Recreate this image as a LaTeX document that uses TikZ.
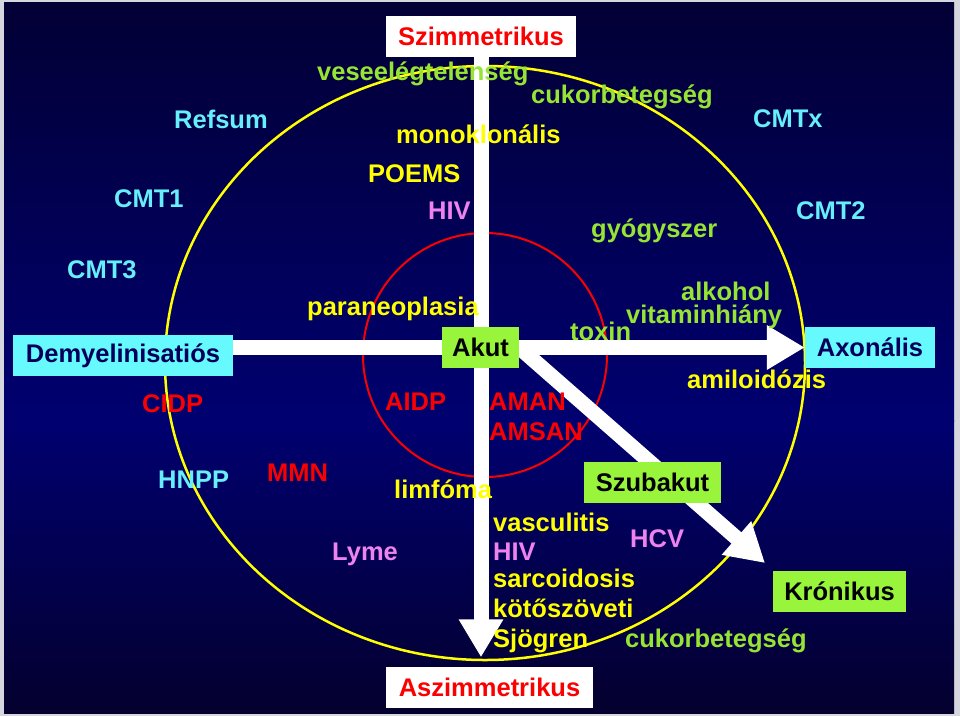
\documentclass[tikz,border=0pt]{standalone}
\usepackage{fontspec}
\setmainfont{Liberation Sans}
\usepackage{xcolor}
\usepackage{tikz}
\usetikzlibrary{arrows.meta,positioning,calc}

\definecolor{slidetop}{RGB}{2,0,52}
\definecolor{slidemid}{RGB}{0,0,112}
\definecolor{slidebot}{RGB}{4,0,46}
\definecolor{framegrey}{RGB}{214,214,222}
\definecolor{txtcyan}{RGB}{102,238,250}
\definecolor{txtyellow}{RGB}{255,255,0}
\definecolor{txtgreen}{RGB}{150,228,52}
\definecolor{txtred}{RGB}{250,0,0}
\definecolor{txtviolet}{RGB}{238,130,238}
\definecolor{boxgreen}{RGB}{153,245,60}
\definecolor{boxcyan}{RGB}{102,250,255}
\definecolor{navytxt}{RGB}{0,0,90}

\pgfdeclarelayer{back}
\pgfdeclarelayer{mid}
\pgfsetlayers{back,mid,main}

\begin{document}
\begin{tikzpicture}[
  x=1pt, y=-1pt,
  every node/.style={inner sep=0pt, font=\fontsize{25.5}{28}\selectfont\bfseries}, % Arial-like bold labels
  lbl/.style={anchor=base west},
  whitebox/.style={fill=white, text=txtred, minimum height=41pt},
  cyanbox/.style={fill=boxcyan, text=navytxt, minimum height=41pt},
  greenbox/.style={fill=boxgreen, text=black, minimum height=41pt},
  bigarrow/.style={-{Triangle[length=38pt,width=42pt]}, line width=15pt, draw=white},
]
\useasboundingbox (0,0) rectangle (960,716);

% slide background
\begin{pgfonlayer}{back}
\fill[framegrey] (0,0) rectangle (960,716);
\shade[top color=slidetop, bottom color=slidemid] (4,2) rectangle (954,421);
\shade[top color=slidemid, bottom color=slidebot] (4,420) rectangle (954,713);
\draw[txtred, line width=2pt] (485,355) circle [radius=122pt];
\draw[txtyellow, line width=2.5pt] (485,363) ellipse [x radius=320pt, y radius=297pt];
\end{pgfonlayer}

% the five boxes
\node[whitebox, minimum width=190pt] (szim) at (481,36.5) {Szimmetrikus};
\node[whitebox, minimum width=207pt] (aszim) at (489.5,687) {Aszimmetrikus};
\node[cyanbox, minimum width=220pt] (demy) at (123,355.5) {Demyelinisatiós};
\node[cyanbox, minimum width=130pt] (axon) at (870,347.5) {Axonális};
\node[greenbox, minimum width=77pt] (akut) at (480.5,347.5) {Akut};
\node[greenbox, minimum width=137pt] (szub) at (652.5,482.5) {Szubakut};
\node[greenbox, minimum width=133pt] (kron) at (839.5,591.5) {Krónikus};
\coordinate (kronTip) at (765,563);

% axes
\begin{pgfonlayer}{mid}
\draw[bigarrow] (szim.south) -- (szim.south |- {$(aszim.north)+(0,-9)$});
\draw[bigarrow] (akut -| demy.east) -- (akut -| axon.west);
\draw[bigarrow] (akut.east) -- (kronTip);
\end{pgfonlayer}

% upper half
\node[lbl, txtgreen] (vese) at (317,80) {veseelégtelenség};
\node[lbl, txtgreen] (cukorA) at (531,103) {cukorbetegség};
\node[lbl, txtcyan] (refsum) at (174,128) {Refsum};
\node[lbl, txtcyan] (cmtx) at (753,127) {CMTx};
\node[lbl, txtyellow] (monokl) at (396,143) {monoklonális};
\node[lbl, txtyellow] (poems) at (368,182) {POEMS};
\node[lbl, txtcyan] (cmtA) at (114,207) {CMT1};
\node[lbl, txtviolet] (hivA) at (428,219) {HIV};
\node[lbl, txtcyan] (cmtB) at (796,219) {CMT2};
\node[lbl, txtgreen] (gyogy) at (591,237) {gyógyszer};
\node[lbl, txtcyan] (cmtC) at (67,278) {CMT3};
\node[lbl, txtgreen] (alk) at (681,300) {alkohol};
\node[lbl, txtyellow] (paraneo) at (307,315) {paraneoplasia};
\node[lbl, txtgreen] (vitamin) at (626,323) {vitaminhiány};
\node[lbl, txtgreen] (toxin) at (570,340) {toxin};

% lower half
\node[lbl, txtyellow] (amilo) at (687,388) {amiloidózis};
\node[lbl, txtred] (cidp) at (142,412) {CIDP};
\node[lbl, txtred] (aidp) at (385,410) {AIDP};
\node[lbl, txtred] (aman) at (489,410) {AMAN};
\node[lbl, txtred] (amsan) at (489,440) {AMSAN};
\node[lbl, txtred] (mmn) at (267,481) {MMN};
\node[lbl, txtcyan] (hnpp) at (158,488) {HNPP};
\node[lbl, txtyellow] (limf) at (394,498) {limfóma};
\node[lbl, txtyellow] (vascu) at (493,531) {vasculitis};
\node[lbl, txtviolet] (hcv) at (630,547) {HCV};
\node[lbl, txtviolet] (lyme) at (332,560) {Lyme};
\node[lbl, txtviolet] (hivB) at (493,560) {HIV};
\node[lbl, txtyellow] (sarco) at (493,587) {sarcoidosis};
\node[lbl, txtyellow] (koto) at (493,617) {kötőszöveti};
\node[lbl, txtyellow] (sjog) at (493,647) {Sjögren};
\node[lbl, txtgreen] (cukorB) at (625,647) {cukorbetegség};
\end{tikzpicture}
\end{document}
